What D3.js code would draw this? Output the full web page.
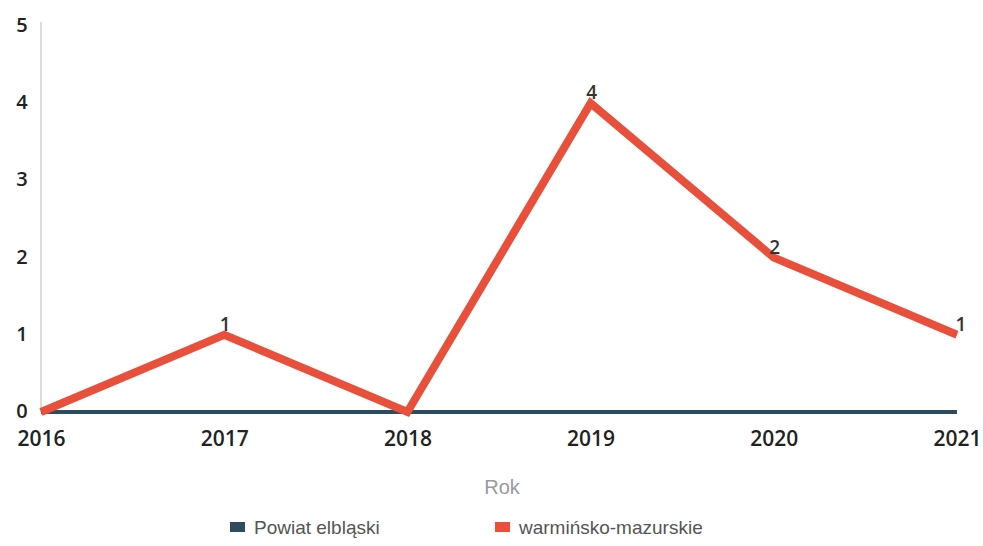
<!DOCTYPE html>
<html>
<head>
<meta charset="utf-8">
<script src="https://cdn.jsdelivr.net/npm/d3@7"></script>
<style>
  body { margin: 0; background: #fff; }
  svg text { font-family: "Open Sans", "DejaVu Sans", sans-serif; }
</style>
</head>
<body>
<div id="chart"></div>
<script>
// datos
var years = ["2016", "2017", "2018", "2019", "2020", "2021"];
var powiat = [0, 0, 0, 0, 0, 0];
var woj = [0, 1, 0, 4, 2, 1];
var yTicks = [0, 1, 2, 3, 4, 5];
var seriesNames = ["Powiat elbląski", "warmińsko-mazurskie"];
var colors = ["#2f4b5f", "#e8503c"];

var W = 983, H = 546;
var margin = { top: 26, right: 26, bottom: 134, left: 41 },
    width = W - margin.left - margin.right,
    height = H - margin.top - margin.bottom;

var svg = d3.select("#chart").append("svg")
    .attr("width", W).attr("height", H);
var g = svg.append("g")
    .attr("transform", "translate(" + margin.left + "," + margin.top + ")");

var x = d3.scalePoint().domain(years).range([0, width]);
var y = d3.scaleLinear().domain([0, 5]).range([height, 0]);

// eje y
g.append("line")
    .attr("x1", 0).attr("x2", 0)
    .attr("y1", y(5) - 4).attr("y2", y(0))
    .attr("stroke", "#dcdcdc").attr("stroke-width", 2);

g.selectAll(".ytick").data(yTicks).enter().append("text")
    .attr("x", -19).attr("y", d => y(d) - 1)
    .attr("dy", "0.35em")
    .attr("text-anchor", "middle")
    .style("font-size", "20px").style("font-weight", "600").style("fill", "#222")
    .text(d => d);

// eje x
var xAxis = d3.axisBottom(x).tickSize(0).tickPadding(19);
var xg = g.append("g").attr("transform", "translate(0," + height + ")").call(xAxis);
xg.select(".domain").remove();
xg.selectAll("text")
    .style("font-size", "21px").style("font-weight", "600").style("fill", "#222")
    .style("font-family", "'Open Sans', sans-serif");

g.append("text")
    .attr("x", width / 2 + 3).attr("y", height + 82)
    .attr("text-anchor", "middle")
    .style("font-size", "20px").style("fill", "#9a9a9a")
    .style("font-family", "'Liberation Sans', Arial, sans-serif")
    .text("Rok");

var line = d3.line().x((d, i) => x(years[i])).y(d => y(d));

g.append("path").datum(powiat)
    .attr("d", line).attr("fill", "none")
    .attr("stroke", colors[0]).attr("stroke-width", 4);

g.append("path").datum(woj)
    .attr("d", line).attr("fill", "none")
    .attr("stroke", colors[1]).attr("stroke-width", 8)
    .attr("stroke-linejoin", "miter");

// etiquetas (sin ceros)
var lbls = woj.map((v, i) => ({ year: years[i], v: v })).filter(d => d.v > 0);
g.selectAll(".lbl").data(lbls).enter()
    .append("text")
    .attr("x", d => x(d.year) + (d.year === "2021" ? 4 : 1))
    .attr("y", d => y(d.v) - 4)
    .attr("text-anchor", "middle")
    .style("font-size", "19px").style("font-weight", "600").style("fill", "#333")
    .text(d => d.v);

// leyenda
var legend = svg.append("g").attr("transform", "translate(0," + 527 + ")");
var lx = [230, 495];
seriesNames.forEach(function (n, i) {
    legend.append("rect")
        .attr("x", lx[i]).attr("y", -5).attr("width", 15).attr("height", 10)
        .attr("fill", colors[i]);
    legend.append("text")
        .attr("x", lx[i] + 24).attr("y", 0).attr("dy", "0.35em")
        .style("font-size", "19px").style("fill", "#555")
        .style("font-family", "'Liberation Sans', Arial, sans-serif")
        .text(n);
});
</script>
</body>
</html>
